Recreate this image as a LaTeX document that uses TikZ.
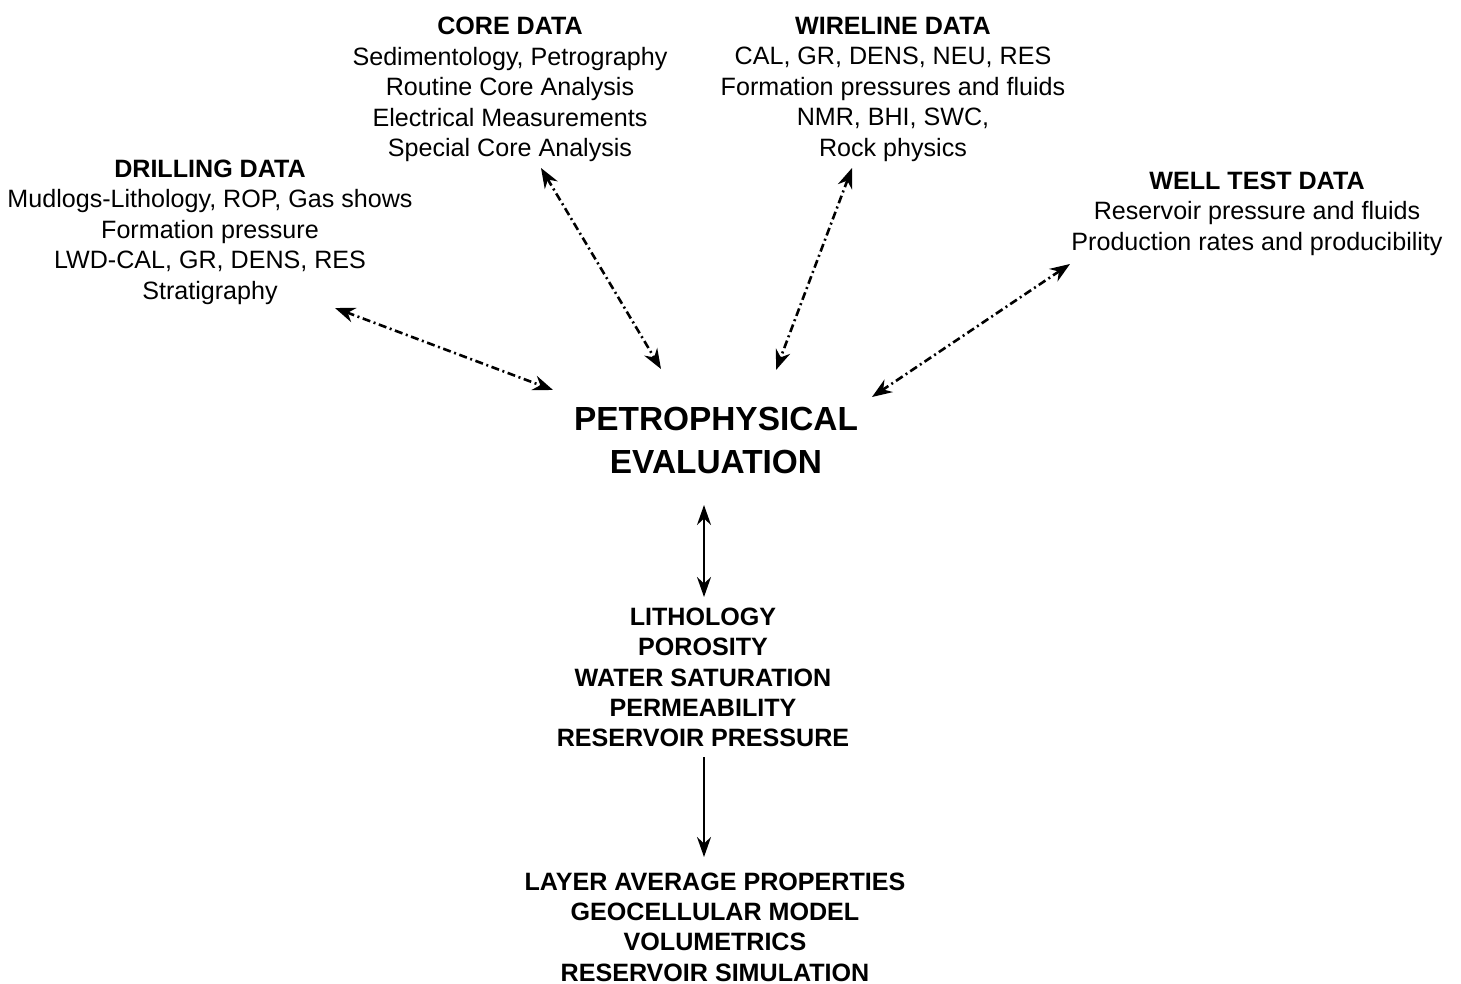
\documentclass[tikz,border=0pt]{standalone}
\usepackage{fontspec}
\setmainfont{Liberation Sans}
\usetikzlibrary{arrows.meta}
\begin{document}
\begin{tikzpicture}[x=0.5pt,y=-0.5pt,
  txt/.style={align=center,font=\fontsize{12.55}{15.25}\selectfont,inner sep=0pt},
  btxt/.style={align=center,font=\fontsize{12.55}{15.2}\selectfont\bfseries,inner sep=0pt},
  big/.style={align=center,font=\fontsize{16.7}{21.5}\selectfont\bfseries,inner sep=0pt},
  dd/.style={line width=1.3pt,dash pattern=on 4pt off 1.8pt on 1pt off 1.8pt,
    {Stealth[length=10pt,width=7.5pt]}-{Stealth[length=10pt,width=7.5pt]}},
  sol/.style={line width=1pt,{Stealth[length=10pt,width=7pt]}-{Stealth[length=10pt,width=7pt]}},
  solone/.style={line width=1pt,-{Stealth[length=10pt,width=7pt]}}]
\useasboundingbox (0,0) rectangle (1461,984);
\node[txt] (core) at (510,89.5) {\textbf{CORE DATA}\\Sedimentology, Petrography\\Routine Core Analysis\\Electrical Measurements\\Special Core Analysis};
\node[txt] (wire) at (893,89) {\textbf{WIRELINE DATA}\\CAL, GR, DENS, NEU, RES\\Formation pressures and fluids\\NMR, BHI, SWC,\\Rock physics};
\node[txt] (drill) at (210,232) {\textbf{DRILLING DATA}\\Mudlogs-Lithology, ROP, Gas shows\\Formation pressure\\LWD-CAL, GR, DENS, RES\\Stratigraphy};
\node[txt] (well) at (1257,213.5) {\textbf{WELL TEST DATA}\\Reservoir pressure and fluids\\Production rates and producibility};
\node[big] (petro) at (716,440.5) {PETROPHYSICAL\\EVALUATION};
\node[btxt] (props) at (703,677.5) {LITHOLOGY\\POROSITY\\WATER SATURATION\\PERMEABILITY\\RESERVOIR PRESSURE};
\node[btxt] (layer) at (715,927) {LAYER AVERAGE PROPERTIES\\GEOCELLULAR MODEL\\VOLUMETRICS\\RESERVOIR SIMULATION};
\coordinate (d1) at (335,308); \coordinate (d2) at (553,390);
\coordinate (c1) at (541,168); \coordinate (c2) at (661,369);
\coordinate (w1) at (852,168); \coordinate (w2) at (776,370);
\coordinate (t1) at (1070,264); \coordinate (t2) at (872,397);
\coordinate (v1) at (704,505); \coordinate (v2) at (704,597);
\coordinate (v3) at (704,757); \coordinate (v4) at (704,857);
\draw[dd] (d1) -- (d2);
\draw[dd] (c1) -- (c2);
\draw[dd] (w1) -- (w2);
\draw[dd] (t1) -- (t2);
\draw[sol] (v1) -- (v2);
\draw[solone] (v3) -- (v4);
\end{tikzpicture}
\end{document}
